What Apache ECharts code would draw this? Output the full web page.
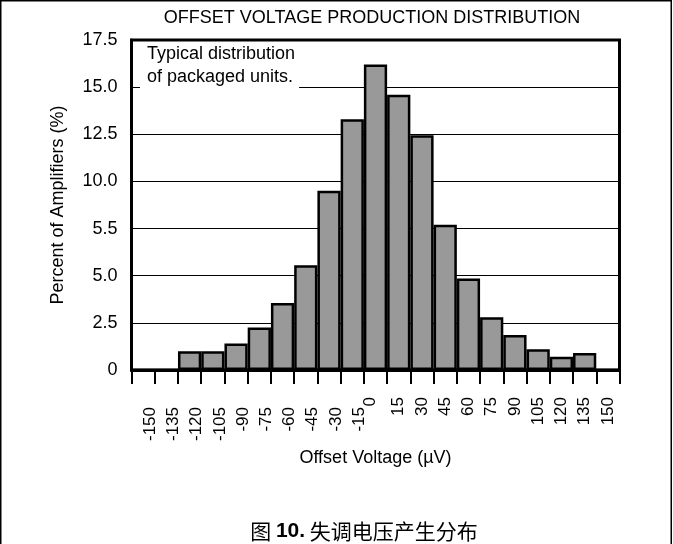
<!DOCTYPE html>
<html><head><meta charset="utf-8">
<script src="https://cdn.jsdelivr.net/npm/echarts@6/dist/echarts.min.js"></script>
<style>html,body{margin:0;padding:0;background:#fff}#c{width:673px;height:544px}</style>
</head><body><div id="c"></div>
<script>
const chartTitle = 'OFFSET VOLTAGE PRODUCTION DISTRIBUTION';
const xLabels = ['-150','-135','-120','-105','-90','-75','-60','-45','-30','-15','0','15','30','45','60','75','90','105','120','135','150'];
const percent = [0, 0, 1.0, 1.0, 1.4, 2.25, 3.55, 5.55, 9.5, 13.3, 16.2, 14.6, 12.45, 7.7, 4.85, 2.8, 1.85, 1.1, 0.7, 0.9, 0];
const yTickLabels = ['0','2.5','5.0','5.5','10.0','12.5','15.0','17.5'];
const xName = 'Offset Voltage (µV)';
const yName = 'Percent of Amplifiers (%)';
const noteLines = ['Typical distribution', 'of packaged units.'];
const captionPre = '图 ';
const captionNum = '10.';
const captionPost = ' 失调电压产生分布';

const FONT = '"Liberation Sans", Arial, Helvetica, sans-serif';
const chart = echarts.init(document.getElementById('c'), null, {renderer: 'canvas'});
const labelBase = {fontSize: 17, fontFamily: FONT, color: '#000'};
chart.setOption({
  animation: false,
  backgroundColor: '#fff',
  grid: {left: 131.5, right: 53.5, top: 40, bottom: 174, show: true, borderColor: '#000', borderWidth: 3, backgroundColor: 'transparent'},
  xAxis: {
    type: 'category',
    data: xLabels,
    boundaryGap: true,
    name: xName,
    nameLocation: 'middle',
    nameGap: 74,
    nameTextStyle: {fontSize: 18, fontFamily: FONT, color: '#000'},
    axisLine: {show: true, lineStyle: {color: '#000', width: 3}},
    axisTick: {show: true, length: 14, interval: 0, lineStyle: {color: '#000', width: 2}},
    axisLabel: {
      interval: 0, rotate: 90, margin: 27, fontSize: 17, fontFamily: FONT, color: '#000',
      formatter: function (v) {
        const n = Number(v);
        if (n < 0) return '{n|' + v + '}';
        if (n === 0) return '{z|' + v + '}';
        return '{p|' + v + '}';
      },
      rich: {
        n: Object.assign({padding: [14, 10, 0, 0]}, labelBase),
        z: Object.assign({padding: [0, 0, 10, 0]}, labelBase),
        p: Object.assign({}, labelBase)
      }
    },
    splitLine: {show: false}
  },
  yAxis: {
    type: 'value',
    min: 0, max: 17.5, interval: 2.5,
    name: yName,
    nameLocation: 'middle',
    nameGap: 64,
    nameTextStyle: {fontSize: 18, fontFamily: FONT, color: '#000'},
    axisLine: {show: true, lineStyle: {color: '#000', width: 3}},
    axisTick: {show: false},
    axisLabel: {
      margin: 14, fontSize: 18, fontFamily: FONT, color: '#000',
      formatter: function (v) { return yTickLabels[Math.round(v / 2.5)]; }
    },
    splitLine: {show: true, lineStyle: {color: '#000', width: 1}}
  },
  series: [{
    type: 'bar',
    data: percent,
    barCategoryGap: '0%',
    barWidth: '100%',
    itemStyle: {color: '#999999', borderColor: '#000', borderWidth: 2.5},
    z: 3
  }],
  graphic: [
    {type: 'polyline', z: 200, silent: true,
      shape: {points: [[0.75, 544], [0.75, 0.75], [671.25, 0.75], [671.25, 544]]},
      style: {stroke: '#000', lineWidth: 1.5, fill: null}},
    {type: 'text', z: 200, x: 372, y: 18,
      style: {text: chartTitle, font: '18px ' + FONT, fill: '#000', align: 'center', verticalAlign: 'middle'}},
    {type: 'text', z: 200, x: 140, y: 42.5,
      style: {text: noteLines.join('\n'), font: '18px ' + FONT, lineHeight: 23, fill: '#000',
        backgroundColor: '#fff', padding: [0, 4, 2, 7], align: 'left', verticalAlign: 'top'}},
    {type: 'text', z: 200, x: 364, y: 531,
      style: {
        text: '{c|' + captionPre + '}{b|' + captionNum + '}{c|' + captionPost + '}',
        align: 'center', verticalAlign: 'middle',
        rich: {
          c: {fontSize: 21, fontFamily: '"Noto Sans CJK SC", ' + FONT, fill: '#000'},
          b: {fontSize: 21, fontWeight: 'bold', fontFamily: FONT, fill: '#000'}
        }
      }}
  ]
});
</script>
</body></html>
